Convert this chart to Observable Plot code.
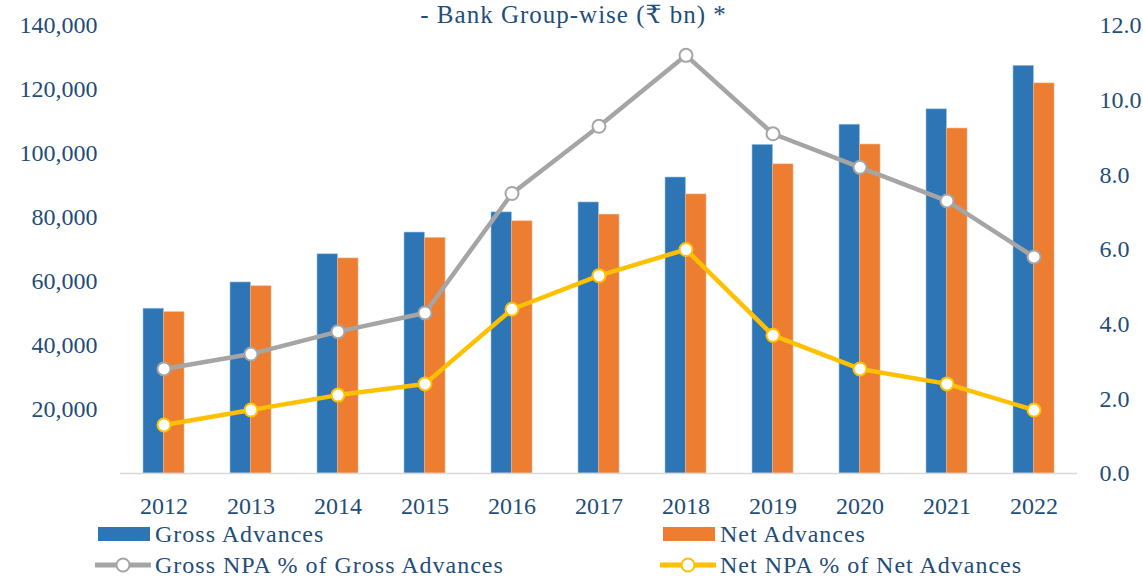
<!DOCTYPE html>
<html>
<head>
<meta charset="utf-8">
<script src="https://cdn.jsdelivr.net/npm/d3@7"></script>
<script src="https://cdn.jsdelivr.net/npm/@observablehq/plot@0.6"></script>
<style>
  html, body { margin: 0; padding: 0; background: #fff; }
  #wrap { position: relative; width: 1143px; height: 579px; overflow: hidden; font-family: "Liberation Serif", "DejaVu Serif", serif; color: #1F4E79; }
  #title { position: absolute; left: 0; width: 1147px; top: 4px; height: 22px; text-align: center; font-size: 25px; line-height: 22px; letter-spacing: 1px; z-index: 2; }
  #chart { position: absolute; left: 0; top: 0; }
  .leg { position: absolute; display: flex; align-items: center; font-size: 24px; line-height: 20px; letter-spacing: 1px; white-space: nowrap; }
  .sw { display: inline-block; width: 52px; height: 14px; margin-right: 5px; }
  .leg svg { margin-right: 4px; }
</style>
</head>
<body>
<div id="wrap">
  <div id="title">- Bank Group-wise (₹ bn) *</div>
  <div id="chart"></div>
</div>
<script>
const years = ["2012","2013","2014","2015","2016","2017","2018","2019","2020","2021","2022"];
const grossAdvances = [51500, 59700, 68500, 75300, 81600, 84700, 92500, 102700, 109000, 113800, 127400];
const netAdvances   = [50400, 58500, 67200, 73600, 78800, 80900, 87200, 96600, 102800, 107800, 121900];
const grossNPA = [2.8, 3.2, 3.8, 4.3, 7.5, 9.3, 11.2, 9.1, 8.2, 7.3, 5.8];
const netNPA   = [1.3, 1.7, 2.1, 2.4, 4.4, 5.3, 6.0, 3.7, 2.8, 2.4, 1.7];
const leftTicks = [20000, 40000, 60000, 80000, 100000, 120000, 140000];
const rightTicks = [0, 2, 4, 6, 8, 10, 12];
const seriesNames = ["Gross Advances", "Net Advances", "Gross NPA % of Gross Advances", "Net NPA % of Net Advances"];

const colors = { gross: "#2E75B6", net: "#ED7D31", gnpa: "#A5A5A5", nnpa: "#FFC000", text: "#1F4E79" };

const W = 1143, H = 520, mL = 120, mR = 66, mT = 25, mB = 47;
const padInner = 0.529, padOuter = 0.264;
const step = (W - mL - mR) / (years.length - padInner + 2 * padOuter);
const half = step * (1 - padInner) / 2;

const leftMax = 140000, rightMax = 12;
const k = leftMax / rightMax;

const rows = years.map((y, i) => ({
  year: y,
  gross: grossAdvances[i],
  net: netAdvances[i],
  gnpa: grossNPA[i],
  nnpa: netNPA[i]
}));

const chart = Plot.plot({
  width: W, height: H,
  marginLeft: mL, marginRight: mR, marginTop: mT, marginBottom: mB,
  style: { fontFamily: '"Liberation Serif", serif', fontSize: "24px", color: colors.text, background: "transparent" },
  x: { type: "band", domain: years, paddingInner: padInner, paddingOuter: padOuter, axis: null },
  y: { domain: [0, leftMax], axis: null },
  marks: [
    Plot.barY(rows, { x: "year", y: "gross", fill: colors.gross, insetRight: half, stroke: "#9DC3E6", strokeWidth: 0.6 }),
    Plot.barY(rows, { x: "year", y: "net", fill: colors.net, insetLeft: half, stroke: "#F4B183", strokeWidth: 0.6 }),
    Plot.ruleY([0], { stroke: "#D9D9D9", strokeWidth: 1.5 }),
    Plot.line(rows, { x: "year", y: d => d.gnpa * k, stroke: colors.gnpa, strokeWidth: 4.5 }),
    Plot.dot(rows, { x: "year", y: d => d.gnpa * k, r: 6.5, fill: "white", stroke: colors.gnpa, strokeWidth: 2 }),
    Plot.line(rows, { x: "year", y: d => d.nnpa * k, stroke: colors.nnpa, strokeWidth: 4.5 }),
    Plot.dot(rows, { x: "year", y: d => d.nnpa * k, r: 6.5, fill: "white", stroke: colors.nnpa, strokeWidth: 2 }),
    Plot.axisY({ anchor: "left", ticks: leftTicks, tickSize: 0, tickPadding: 23, tickFormat: d3.format(","), label: null }),
    Plot.axisY({ anchor: "right", ticks: rightTicks.map(v => v * k), tickSize: 0, tickPadding: 22, tickFormat: v => (v / k).toFixed(1), label: null }),
    Plot.axisX({ anchor: "bottom", tickSize: 0, tickPadding: 23, label: null })
  ]
});
document.getElementById("chart").appendChild(chart);

// Legend (HTML, below the SVG)
const wrap = document.getElementById("wrap");
function barLegend(name, color, left, top) {
  const d = document.createElement("div");
  d.className = "leg";
  d.style.left = left + "px";
  d.style.top = top + "px";
  d.style.height = "20px";
  d.innerHTML = `<span class="sw" style="background:${color}"></span><span>${name}</span>`;
  wrap.appendChild(d);
}
function lineLegend(name, color, left, top) {
  const d = document.createElement("div");
  d.className = "leg";
  d.style.left = left + "px";
  d.style.top = top + "px";
  d.style.height = "20px";
  d.innerHTML = `<svg width="56" height="18" viewBox="0 0 56 18"><line x1="1" x2="55" y1="9" y2="9" stroke="${color}" stroke-width="5" stroke-linecap="round"/><circle cx="28" cy="9" r="6.5" fill="white" stroke="${color}" stroke-width="2"/></svg><span>${name}</span>`;
  wrap.appendChild(d);
}
barLegend(seriesNames[0], colors.gross, 98, 524);
barLegend(seriesNames[1], colors.net, 663, 524);
lineLegend(seriesNames[2], colors.gnpa, 95, 555);
lineLegend(seriesNames[3], colors.nnpa, 660, 555);
</script>
</body>
</html>
